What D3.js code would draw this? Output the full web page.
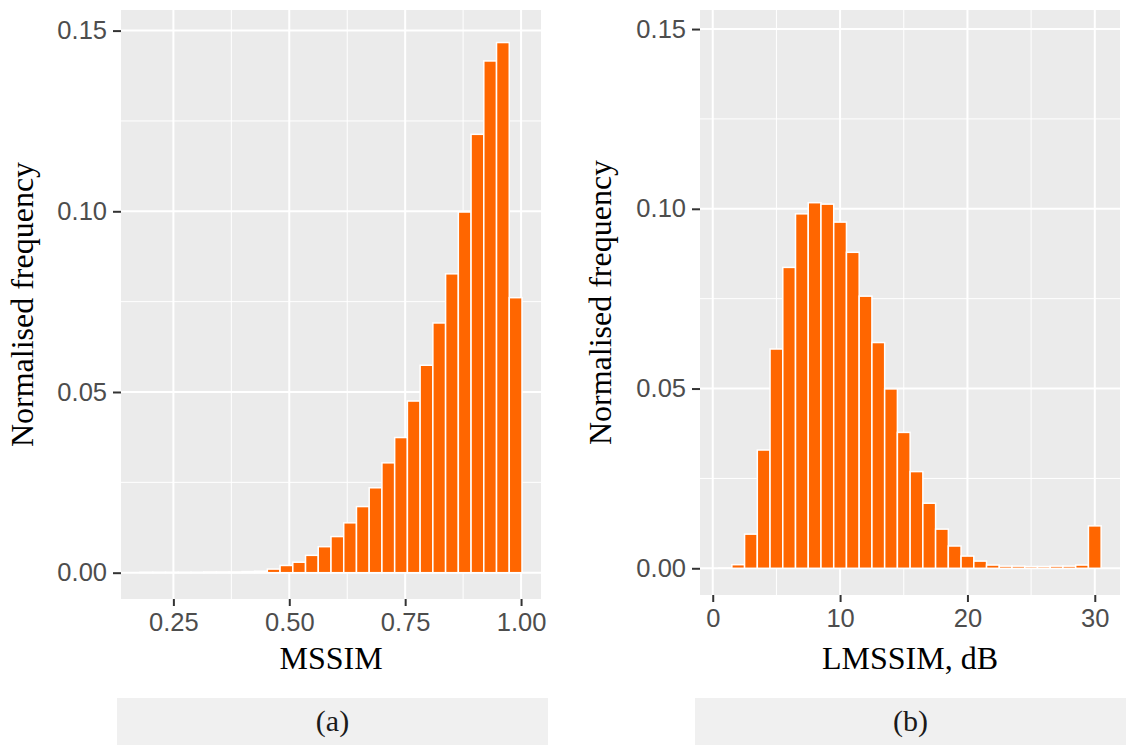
<!DOCTYPE html>
<html>
<head>
<meta charset="utf-8">
<script src="https://cdn.jsdelivr.net/npm/d3@7"></script>
<style>
  html, body { margin: 0; padding: 0; background: #ffffff; }
  svg { display: block; }
</style>
</head>
<body>
<svg id="chart" width="1126" height="745"></svg>
<script>
// ---- Data -------------------------------------------------------------
// (a) MSSIM histogram: 30 equal bins spanning the observed range
const mssimRange = [0.178, 1.002];
const mssimFreq = [
  0.0001, 0.0001, 0.0001, 0.0001, 0.0001, 0.0002, 0.0002, 0.0002, 0.0003, 0.0004,
  0.0010, 0.0020, 0.0029, 0.0048, 0.0072, 0.0100, 0.0138, 0.0183, 0.0235, 0.0304,
  0.0374, 0.0475, 0.0574, 0.0691, 0.0827, 0.0998, 0.1213, 0.1416, 0.1467, 0.0761
];
const mssimTicks = [0.25, 0.50, 0.75, 1.00];
const mssimTickLabels = ["0.25", "0.50", "0.75", "1.00"];

// (b) LMSSIM histogram: 1 dB bins centred on 1..30 dB
const lmssimCentres = [
  1, 2, 3, 4, 5, 6, 7, 8, 9, 10, 11, 12, 13, 14, 15,
  16, 17, 18, 19, 20, 21, 22, 23, 24, 25, 26, 27, 28, 29, 30
];
const lmssimFreq = [
  0.0001, 0.0010, 0.0095, 0.0329, 0.0610, 0.0837, 0.0986, 0.1017, 0.1013, 0.0963,
  0.0879, 0.0757, 0.0628, 0.0499, 0.0378, 0.0269, 0.0181, 0.0109, 0.0062, 0.0034,
  0.0020, 0.0009, 0.0006, 0.0006, 0.0005, 0.0005, 0.0006, 0.0006, 0.0009, 0.0118
];
const lmssimTicks = [0, 10, 20, 30];
const lmssimTickLabels = ["0", "10", "20", "30"];

const freqTicks = [0, 0.05, 0.10, 0.15];
const freqTickLabels = ["0.00", "0.05", "0.10", "0.15"];
const freqMinor = [0.025, 0.075, 0.125];

// ---- Styling ----------------------------------------------------------
const BAR_FILL = "#FF6600";
const PANEL_BG = "#EBEBEB";
const STRIP_BG = "#F0F0F0";
const TICK_TEXT = "#4D4D4D";
const SANS = "'Liberation Sans', Arial, sans-serif";
const SERIF = "'Liberation Serif', 'Times New Roman', serif";

const svg = d3.select("#chart");

function drawPanel(cfg) {
  const g = svg.append("g");
  const x = d3.scaleLinear().domain(cfg.xDomain).range([cfg.left, cfg.right]);
  const y = d3.scaleLinear().domain(cfg.yDomain).range([cfg.bottom, cfg.top]);

  // panel background
  g.append("rect")
    .attr("x", cfg.left).attr("y", cfg.top)
    .attr("width", cfg.right - cfg.left).attr("height", cfg.bottom - cfg.top)
    .attr("fill", PANEL_BG);

  // minor grid
  g.selectAll(".vminor").data(cfg.xMinor).join("line")
    .attr("x1", d => x(d)).attr("x2", d => x(d))
    .attr("y1", cfg.top).attr("y2", cfg.bottom)
    .attr("stroke", "#fff").attr("stroke-width", 1);
  g.selectAll(".hminor").data(freqMinor).join("line")
    .attr("y1", d => y(d)).attr("y2", d => y(d))
    .attr("x1", cfg.left).attr("x2", cfg.right)
    .attr("stroke", "#fff").attr("stroke-width", 1);

  // major grid
  g.selectAll(".vmajor").data(cfg.xTicks).join("line")
    .attr("x1", d => x(d)).attr("x2", d => x(d))
    .attr("y1", cfg.top).attr("y2", cfg.bottom)
    .attr("stroke", "#fff").attr("stroke-width", 2);
  g.selectAll(".hmajor").data(freqTicks).join("line")
    .attr("y1", d => y(d)).attr("y2", d => y(d))
    .attr("x1", cfg.left).attr("x2", cfg.right)
    .attr("stroke", "#fff").attr("stroke-width", 2);

  // histogram bars
  g.selectAll(".bar").data(cfg.bins).join("rect")
    .attr("x", d => x(d.x0))
    .attr("width", d => x(d.x1) - x(d.x0))
    .attr("y", d => y(d.v))
    .attr("height", d => y(0) - y(d.v))
    .attr("fill", BAR_FILL)
    .attr("stroke", "#fff")
    .attr("stroke-width", 1.5);

  // axes
  const xAxis = d3.axisBottom(x)
    .tickValues(cfg.xTicks)
    .tickFormat((d, i) => cfg.xTickLabels[i])
    .tickSize(7).tickPadding(7);
  const xa = g.append("g").attr("transform", `translate(0,${cfg.bottom})`).call(xAxis);
  xa.select(".domain").remove();
  xa.selectAll(".tick line").attr("stroke", "#333").attr("stroke-width", 2);
  xa.selectAll(".tick text")
    .attr("fill", TICK_TEXT).style("font-family", SANS).style("font-size", "25.5px");

  const yAxis = d3.axisLeft(y)
    .tickValues(freqTicks)
    .tickFormat((d, i) => freqTickLabels[i])
    .tickSize(8).tickPadding(6);
  const ya = g.append("g").attr("transform", `translate(${cfg.left},0)`).call(yAxis);
  ya.select(".domain").remove();
  ya.selectAll(".tick line").attr("stroke", "#333").attr("stroke-width", 2);
  ya.selectAll(".tick text")
    .attr("fill", TICK_TEXT).style("font-family", SANS).style("font-size", "25.5px");

  // axis titles
  g.append("text")
    .attr("x", (cfg.left + cfg.right) / 2).attr("y", 669)
    .attr("text-anchor", "middle")
    .style("font-family", SERIF).style("font-size", "32px").attr("fill", "#000")
    .text(cfg.xTitle);
  g.append("text")
    .attr("transform", `translate(${cfg.yTitleX},${(cfg.top + cfg.bottom) / 2}) rotate(-90)`)
    .attr("text-anchor", "middle")
    .style("font-family", SERIF).style("font-size", "32px").attr("fill", "#000")
    .text("Normalised frequency");

  // caption strip
  g.append("rect")
    .attr("x", cfg.stripX0).attr("y", 698)
    .attr("width", cfg.stripX1 - cfg.stripX0).attr("height", 47)
    .attr("fill", STRIP_BG);
  g.append("text")
    .attr("x", (cfg.stripX0 + cfg.stripX1) / 2).attr("y", 731)
    .attr("text-anchor", "middle")
    .style("font-family", SERIF).style("font-size", "30px").attr("fill", "#1a1a1a")
    .text(cfg.caption);
}

// bins for panel (a)
const mssimWidth = (mssimRange[1] - mssimRange[0]) / mssimFreq.length;
const mssimBins = mssimFreq.map((v, i) => ({
  x0: mssimRange[0] + i * mssimWidth,
  x1: mssimRange[0] + (i + 1) * mssimWidth,
  v
}));

// bins for panel (b)
const lmssimBins = lmssimCentres.map((c, i) => ({ x0: c - 0.5, x1: c + 0.5, v: lmssimFreq[i] }));

drawPanel({
  left: 121, right: 541, top: 10, bottom: 599,
  xDomain: [0.137, 1.043], yDomain: [-0.00728, 0.1557],
  xTicks: mssimTicks, xTickLabels: mssimTickLabels, xMinor: [0.375, 0.625, 0.875],
  bins: mssimBins, xTitle: "MSSIM", yTitleX: 33,
  stripX0: 117, stripX1: 548, caption: "(a)"
});

drawPanel({
  left: 700, right: 1120, top: 10, bottom: 595,
  xDomain: [-1.0, 31.98], yDomain: [-0.00743, 0.1553],
  xTicks: lmssimTicks, xTickLabels: lmssimTickLabels, xMinor: [5, 15, 25],
  bins: lmssimBins, xTitle: "LMSSIM, dB", yTitleX: 611,
  stripX0: 695, stripX1: 1126, caption: "(b)"
});
</script>
</body>
</html>
